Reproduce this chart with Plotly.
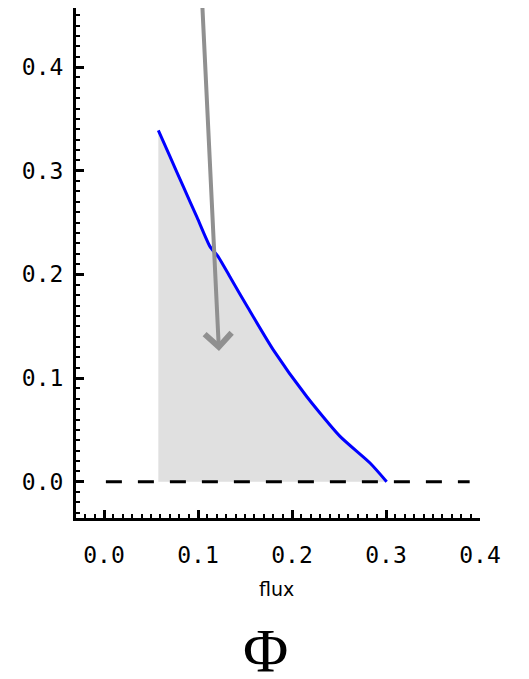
import plotly.graph_objects as go

# Data
curve_x = [0.0578, 0.070, 0.0844, 0.099, 0.1128, 0.1216, 0.135, 0.153, 0.1801, 0.2156, 0.2511, 0.2830, 0.3007]
curve_y = [0.339, 0.314, 0.2846, 0.255, 0.2268, 0.217, 0.196, 0.168, 0.1272, 0.0822, 0.0437, 0.0180, 0.0]
zero_x = [0.002, 0.389]
zero_y = [0.0, 0.0]
arrow_tail = (0.1035, 0.48)
arrow_head = (0.1223, 0.126)
tick_vals = [0.0, 0.1, 0.2, 0.3, 0.4]
tick_text = ["0.0", "0.1", "0.2", "0.3", "0.4"]

fig = go.Figure()
fig.add_trace(go.Scatter(x=curve_x, y=curve_y, mode="lines", fill="tozeroy",
                         fillcolor="#e0e0e0", line=dict(width=0, color="#e0e0e0"),
                         hoverinfo="skip", showlegend=False))
fig.add_trace(go.Scatter(x=zero_x, y=zero_y, mode="lines",
                         line=dict(color="black", width=3, dash="16px,16px"),
                         showlegend=False))
fig.add_trace(go.Scatter(x=curve_x, y=curve_y, mode="lines",
                         line=dict(color="#0000ff", width=3, shape="spline", smoothing=0.6),
                         showlegend=False))

fig.add_annotation(x=arrow_head[0], y=arrow_head[1], ax=arrow_tail[0], ay=arrow_tail[1],
                   xref="x", yref="y", axref="x", ayref="y", text="",
                   showarrow=True, arrowhead=4, arrowsize=1.3, arrowwidth=4,
                   arrowcolor="#909090")

fig.add_annotation(x=0.4975, y=-0.1645, xref="paper", yref="paper", text="flux",
                   showarrow=False, font=dict(family="DejaVu Sans", size=19, color="black"))
fig.add_annotation(x=0.468, y=-0.311, xref="paper", yref="paper", text="Φ",
                   height=50, valign="middle",
                   showarrow=False, font=dict(family="Liberation Serif", size=62, color="black"))

axis_common = dict(showgrid=False, zeroline=False, showline=True, linecolor="black",
                   linewidth=3, ticks="inside", ticklen=8, tickwidth=3, tickcolor="black",
                   tickvals=tick_vals, ticktext=tick_text,
                   tickfont=dict(family="DejaVu Sans Mono", size=23, color="black"),
                   minor=dict(dtick=0.01, ticks="inside", ticklen=4, tickwidth=2,
                              tickcolor="black", showgrid=False))

fig.update_xaxes(range=[-0.0298, 0.4], ticklabelstandoff=14, **axis_common)
fig.update_yaxes(range=[-0.035, 0.457], ticklabelstandoff=5, **axis_common)

fig.update_layout(width=521, height=671, margin=dict(l=68, r=49, t=0, b=161, autoexpand=False),
                  plot_bgcolor="white", paper_bgcolor="white", showlegend=False)

fig.write_html("out.html")
